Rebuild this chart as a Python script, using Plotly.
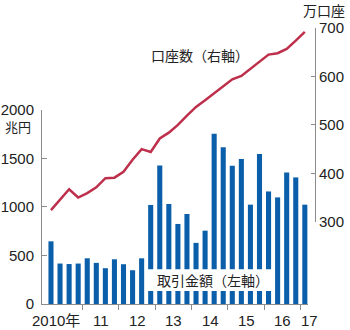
import plotly.graph_objects as go

# 2010 Q1 ... 2017 Q1 (quarterly)
quarters = list(range(29))
trading_value = [646, 417, 412, 417, 471, 424, 369, 461, 410, 348, 471,
                 1021, 1428, 1031, 825, 928, 630, 756, 1754, 1617, 1425, 1494,
                 1024, 1545, 1160, 1099, 1356, 1305, 1024]
accounts = [324, 346, 367, 350, 359, 371, 390, 391, 403, 428, 450, 444, 472, 484,
            500, 519, 537, 551, 566, 580, 594, 601, 616, 631, 645, 648, 657, 674, 692]

year_labels = ["2010年", "11", "12", "13", "14", "15", "16", "17"]
year_label_pos = [0.55, 5.55, 9.55, 13.55, 17.55, 21.55, 25.55, 28.55]
year_bounds = [3.5, 7.5, 11.5, 15.5, 19.5, 23.5, 27.5]
left_ticks = [0, 500, 1000, 1500, 2000]
right_ticks = [300, 400, 500, 600, 700]

BAR = "#0B5FAA"
LINE = "#BE2F4C"
AXIS = "#8C8C8C"
TXT = "#222222"
NUMFONT = "Liberation Sans, Noto Sans CJK JP, sans-serif"
JPFONT = "Noto Sans CJK JP, sans-serif"

L, R, T, B = 42, 35, 28, 26
W, H = 350, 330
PW, PH = W - L - R, H - T - B
X0, X1 = -0.99, 28.34
XDOM = 0.974


def px(xp, yp):
    """pixel position -> paper fraction"""
    return (xp - L) / PW, (H - B - yp) / PH


def xdata_to_paper(v):
    return XDOM * (v - X0) / (X1 - X0)


fig = go.Figure()
fig.add_trace(go.Bar(x=quarters, y=trading_value, marker_color=BAR,
                     marker_line_width=0, width=0.56, xaxis="x", yaxis="y"))
fig.add_trace(go.Scatter(x=quarters, y=accounts, mode="lines",
                         line=dict(color=LINE, width=2.5), xaxis="x", yaxis="y2"))

fig.update_layout(
    width=W, height=H,
    margin=dict(l=L, r=R, t=T, b=B, pad=0),
    paper_bgcolor="white", plot_bgcolor="rgba(0,0,0,0)",
    showlegend=False,
    font=dict(family=NUMFONT, color=TXT, size=15),
    xaxis=dict(domain=[0, XDOM], range=[X0, X1], anchor="y", automargin=False,
               showgrid=False, zeroline=False, showline=True, linecolor=AXIS,
               linewidth=1, tickmode="array", tickvals=year_bounds,
               showticklabels=False, ticks="outside", ticklen=5,
               tickcolor=AXIS, tickwidth=1),
    yaxis=dict(domain=[0, 0.703], range=[0, 2000], anchor="x", automargin=False,
               showgrid=False, zeroline=False, showline=True, linecolor=AXIS,
               linewidth=1, tickmode="array", tickvals=left_ticks,
               ticks="inside", ticklen=5, tickcolor=AXIS, ticklabelstandoff=4,
               tickfont=dict(size=15, family=NUMFONT, color=TXT)),
    yaxis2=dict(domain=[0.298, 1], range=[300, 700], anchor="free", automargin=False,
                position=1, side="right",
                showgrid=False, zeroline=False, showline=True, linecolor=AXIS,
                linewidth=1, tickmode="array", tickvals=right_ticks,
                ticks="inside", ticklen=4, tickcolor=AXIS,
                tickfont=dict(size=15, family=NUMFONT, color=TXT)),
)

# white box behind the bar-series label
fig.add_shape(type="rect", xref="x", yref="y", x0=10.47, x1=24.48, y0=135, y1=358,
              fillcolor="white", line_width=0, layer="above")

for lab, pos in zip(year_labels, year_label_pos):
    fig.add_annotation(x=xdata_to_paper(pos), y=0, xref="paper", yref="paper",
                       text=lab, showarrow=False, xanchor="center",
                       yanchor="top", yshift=-6,
                       font=dict(size=15, family=NUMFONT, color=TXT))

for text, xp, yp, size, xa in [
    ("取引金額（左軸）", 213, 280, 14, "center"),
    ("口座数（右軸）", 200, 55, 14, "center"),
    ("万口座", 324, 10, 14, "center"),
    ("兆円", 3, 126, 13, "left"),
]:
    xx, yy = px(xp, yp)
    fig.add_annotation(x=xx, y=yy, xref="paper", yref="paper", text=text,
                       showarrow=False, xanchor=xa, yanchor="middle",
                       font=dict(size=size, family=JPFONT, color=TXT))

fig.write_html("out.html")
